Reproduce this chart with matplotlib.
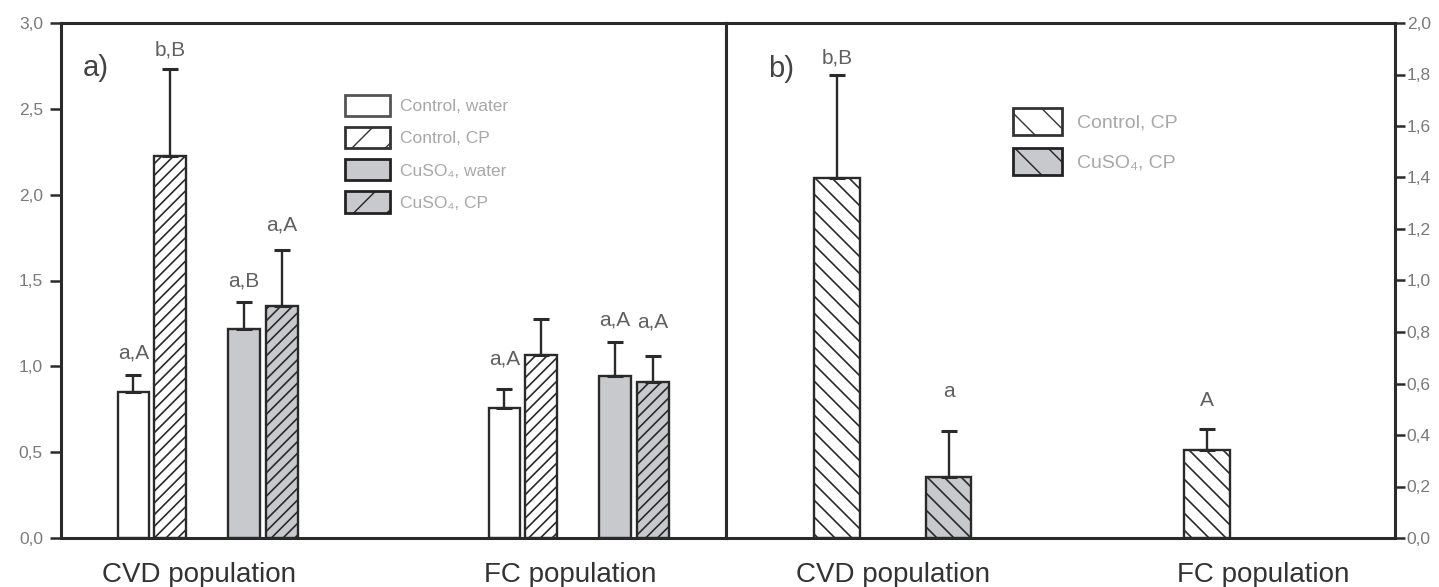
import numpy as np
import matplotlib
matplotlib.use("Agg")
import matplotlib.pyplot as plt
from matplotlib.patches import Patch
from matplotlib.collections import LineCollection
from matplotlib.transforms import IdentityTransform
from matplotlib.ticker import FuncFormatter, MultipleLocator

plt.rcParams['font.family'] = ['Liberation Sans', 'DejaVu Sans']

groups = ['CVD population', 'FC population']

# Panel a: means and upper error bars
ctrl_water = [0.850, 0.755]
ctrl_water_err = [0.100, 0.113]
ctrl_cp = [2.225, 1.066]
ctrl_cp_err = [0.505, 0.208]
cuso4_water = [1.215, 0.943]
cuso4_water_err = [0.158, 0.200]
cuso4_cp = [1.353, 0.907]
cuso4_cp_err = [0.327, 0.155]

ctrl_water_lab = ['a,A', 'a,A']
ctrl_cp_lab = ['b,B', '']
cuso4_water_lab = ['a,B', 'a,A']
cuso4_cp_lab = ['a,A', 'a,A']

# Panel b
ctrl_cp_b = [1.399, 0.342]
ctrl_cp_b_err = [0.399, 0.080]
cuso4_cp_b = [0.238, np.nan]
cuso4_cp_b_err = [0.178, np.nan]

ctrl_cp_b_lab = ['b,B', 'A']
cuso4_cp_b_lab = ['a', '']

W, H = 1439, 587
DARK = '#2a2a2a'
GRAY = '#c8c9cc'

fig = plt.figure(figsize=(W / 100, H / 100), dpi=100)
fig.patch.set_facecolor('white')
ax1 = fig.add_axes([61 / W, 49 / H, 665 / W, 515 / H])
ax2 = fig.add_axes([726 / W, 49 / H, 669 / W, 515 / H])


def comma(v, pos):
    return f'{v:.1f}'.replace('.', ',')


def style_axes(ax, side):
    for sp in ax.spines.values():
        sp.set_linewidth(2.2)
        sp.set_color(DARK)
    ax.yaxis.set_major_formatter(FuncFormatter(comma))
    ax.tick_params(axis='x', length=0, labelsize=20, labelcolor='#333333', pad=17)
    if side == 'left':
        ax.tick_params(axis='y', left=True, right=False, labelleft=True,
                       labelright=False, direction='out', length=8, width=1.8,
                       color=DARK, pad=5, labelsize=12.5, labelcolor='#7a7a7a')
    else:
        ax.tick_params(axis='y', left=False, right=True, labelleft=False,
                       labelright=True, direction='out', length=7, width=1.8,
                       color=DARK, pad=1.5, labelsize=12.5, labelcolor='#7a7a7a')


def hatch_bars(ax, bars, spacing, direction, color=DARK, lw=1.2):
    for bar in bars:
        x0, y0, x1, y1 = bar.get_window_extent().extents
        segs = []
        if direction > 0:
            k0 = int(np.floor((y0 - x1) / spacing))
            k1 = int(np.ceil((y1 - x0) / spacing))
            for k in range(k0, k1 + 1):
                c = k * spacing
                segs.append([(x0, x0 + c), (x1, x1 + c)])
        else:
            k0 = int(np.floor((y0 + x0) / spacing))
            k1 = int(np.ceil((y1 + x1) / spacing))
            for k in range(k0, k1 + 1):
                c = k * spacing
                segs.append([(x0, c - x0), (x1, c - x1)])
        lc = LineCollection(segs, colors=color, linewidths=lw,
                            transform=IdentityTransform(),
                            zorder=bar.get_zorder() + 0.05)
        ax.add_collection(lc, autolim=False)
        lc.set_clip_path(bar)


def draw_series(ax, xs, vals, errs, labels, pads, width, face, hatch,
                spacing, direction):
    xs = np.asarray(xs, float)
    vals = np.asarray(vals, float)
    errs = np.asarray(errs, float)
    ok = ~np.isnan(vals)
    bars = ax.bar(xs[ok], vals[ok], width=width, color=face,
                  edgecolor=DARK, linewidth=1.7, zorder=2)
    if hatch:
        hatch_bars(ax, bars, spacing, direction)
    ax.errorbar(xs[ok], vals[ok], yerr=[np.zeros(ok.sum()), errs[ok]],
                fmt='none', ecolor=DARK, elinewidth=1.7, capsize=5.5,
                capthick=2.2, zorder=3)
    for x, v, e, lab, p in zip(xs, vals, errs, labels, pads):
        if lab and not np.isnan(v):
            ax.annotate(lab, (x, v + e), xytext=(0, p),
                        textcoords='offset points', ha='center', va='center',
                        fontsize=15, color='#606060')


# ---- panel a ----
xg = np.arange(len(groups))
offs_a = [-0.177, -0.078, 0.121, 0.224]
wa = 0.085
ax1.set_xlim(-0.372, 1.4205)
ax1.set_ylim(0, 3.0)
ax1.yaxis.set_major_locator(MultipleLocator(0.5))
style_axes(ax1, 'left')

series_a = [
    (ctrl_water, ctrl_water_err, ctrl_water_lab, [15.8, 21.6], 'white', False),
    (ctrl_cp, ctrl_cp_err, ctrl_cp_lab, [13.7, 0], 'white', True),
    (cuso4_water, cuso4_water_err, cuso4_water_lab, [15.1, 15.8], GRAY, False),
    (cuso4_cp, cuso4_cp_err, cuso4_cp_lab, [18.0, 24.5], GRAY, True),
]
for off, (v, e, lab, pads, face, hat) in zip(offs_a, series_a):
    draw_series(ax1, xg + off, v, e, lab, pads, wa, face, hat, 11.7, +1)

ax1.set_xticks(xg)
ax1.set_xticklabels(groups)
ax1.text(0.053, 0.913, 'a)', transform=ax1.transAxes, fontsize=21,
         color='#444444', ha='center', va='center')

leg_a = [
    Patch(facecolor='white', edgecolor='#555555', linewidth=2, label='Control, water'),
    Patch(facecolor='white', edgecolor='#333333', hatch='/', linewidth=2, label='Control, CP'),
    Patch(facecolor=GRAY, edgecolor='#222222', linewidth=2, label='CuSO\u2084, water'),
    Patch(facecolor=GRAY, edgecolor='#222222', hatch='/', linewidth=2, label='CuSO\u2084, CP'),
]
ax1.legend(handles=leg_a, loc='upper left', bbox_to_anchor=(345 / W, 1 - 95 / H),
           bbox_transform=fig.transFigure, frameon=False, fontsize=12.5,
           handlelength=2.6, handleheight=1.5, labelspacing=0.63,
           handletextpad=0.57, borderpad=0, borderaxespad=0,
           labelcolor='#a8a8a8')

# ---- panel b ----
offs_b = [-0.151, 0.151]
wb = 0.123
ax2.set_xlim(-0.45, 1.356)
ax2.set_ylim(0, 2.0)
ax2.yaxis.set_major_locator(MultipleLocator(0.2))
style_axes(ax2, 'right')

series_b = [
    (ctrl_cp_b, ctrl_cp_b_err, ctrl_cp_b_lab, [12.2, 21.0], 'white'),
    (cuso4_cp_b, cuso4_cp_b_err, cuso4_cp_b_lab, [28.0, 0], GRAY),
]
for off, (v, e, lab, pads, face) in zip(offs_b, series_b):
    draw_series(ax2, xg + off, v, e, lab, pads, wb, face, True, 17.0, -1)

ax2.set_xticks(xg)
ax2.set_xticklabels(groups)
ax2.text(0.082, 0.911, 'b)', transform=ax2.transAxes, fontsize=21,
         color='#444444', ha='center', va='center')

leg_b = [
    Patch(facecolor='white', edgecolor='#333333', hatch='\\', linewidth=2, label='Control, CP'),
    Patch(facecolor=GRAY, edgecolor='#222222', hatch='\\', linewidth=2, label='CuSO\u2084, CP'),
]
ax2.legend(handles=leg_b, loc='upper left', bbox_to_anchor=(1013 / W, 1 - 108 / H),
           bbox_transform=fig.transFigure, frameon=False, fontsize=14,
           handlelength=2.5, handleheight=1.75, labelspacing=0.67,
           handletextpad=0.8, borderpad=0, borderaxespad=0,
           labelcolor='#a8a8a8')

fig.savefig('out.png', dpi=100, facecolor='white')
